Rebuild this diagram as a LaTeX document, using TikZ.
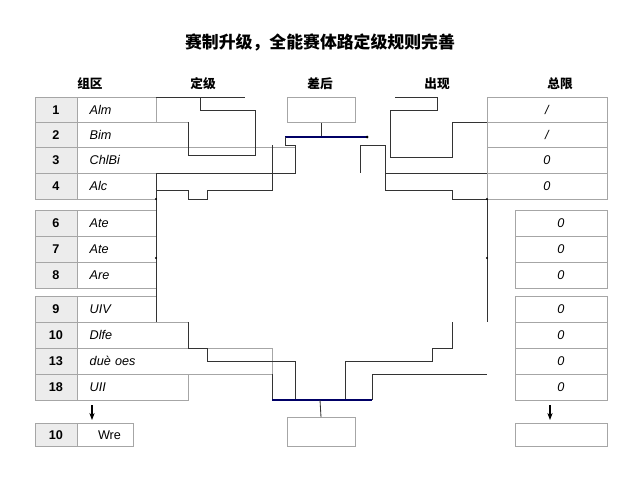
\documentclass[tikz,border=0pt]{standalone}
\usepackage{fontspec}
\setmainfont{Liberation Sans}
\newfontfamily\cjk{Noto Sans CJK SC}
\usetikzlibrary{positioning, arrows.meta, calc}

\tikzset{
  numcell/.style={draw=gray!70, fill=gray!15, minimum width=42*0.025cm, minimum height=26*0.025cm, font=\bfseries\small, inner sep=0pt},
  txtcell/.style={draw=gray!70, fill=white, minimum height=26*0.025cm, font=\itshape\small, anchor=west, inner sep=0pt, align=left, text depth=0pt},
  rcell/.style={draw=gray!70, fill=white, minimum height=26*0.025cm, font=\itshape\small, inner sep=0pt},
  head/.style={font=\cjk\bfseries\small},
  br/.style={draw=black!80, line width=0.6pt},
  blu/.style={draw=blue!40!black, line width=0.8pt},
}

\begin{document}
\begin{tikzpicture}[x=0.025cm, y=-0.025cm]
        \useasboundingbox (0,0) rectangle (640,480);
        \node[font=\cjk\bfseries\large] (title) at (320,42) {赛制升级，全能赛体路定级规则完善};

        % headers
        \foreach \x/\t in {90/组区, 203/定级, 320/差后, 437/出现, 560/总限} {
            \node[head] at (\x,84) {\t};
        }

        % left rows: number / label / right end of label cell
        \foreach \y/\n/\t/\w in {110/1/Alm/79, 135/2/Bim/111, 160/3/ChlBi/218, 186/4/Alc/79,
                                 223/6/Ate/79, 249/7/Ate/79, 275/8/Are/79,
                                 309/9/UIV/79, 335/10/Dlfe/111, 361/13/duè oes/195, 387/18/UII/111} {
            \node[numcell] (n\n) at (56,\y) {\n};
            \node[txtcell, minimum width=\w*0.025cm, text width=(\w-8)*0.025cm] (t\n) at (77,\y) {\hspace{6pt}\t};
        }
        \draw[-{Stealth[length=5pt]}, thick] (92,405) -- (92,420);
        \node[numcell, minimum height=23*0.025cm] (nW) at (56,435) {10};
        \node[txtcell, minimum width=56*0.025cm, minimum height=23*0.025cm] (tW) at (77,435) {\hspace{6pt}\upshape Wre};

        % right column
        \foreach \y/\t/\w/\c in {110/{/}/120/547, 135/{/}/120/547, 160/0/120/547, 186/0/120/547,
                                 223/0/92/561, 249/0/92/561, 275/0/92/561,
                                 309/0/92/561, 335/0/92/561, 361/0/92/561, 387/0/92/561} {
            \node[rcell, minimum width=\w*0.025cm] at (\c,\y) {\t};
        }
        \draw[-{Stealth[length=5pt]}, thick] (550,405) -- (550,420);
        \node[rcell, minimum width=92*0.025cm, minimum height=23*0.025cm] (rW) at (561,435) {};

        % centre boxes
        \node[draw=gray!70, minimum width=68*0.025cm, minimum height=25*0.025cm] (top) at (321,110) {};
        \node[draw=gray!70, minimum width=68*0.025cm, minimum height=29*0.025cm] (bot) at (321,432) {};

        % left upper bracket
        \draw[br] (156,97) -- (245,97);
        \draw[br] (200,97) -- (200,110) -- (255,110) -- (255,155) -- (188,155) -- (188,122);
        \draw[br] (295,145) -- (295,173) -- (156,173);
        \draw[br] (272,145) -- (272,190) -- (207,190) -- (207,199) -- (188,199) -- (188,190) -- (156,190);
        \draw[br] (156,173) -- (156,296);
        \fill (156,199) circle (1.2) (156,258) circle (1.2);

        % right upper bracket
        \draw[br] (395,97) -- (437,97) -- (437,110) -- (390,110) -- (390,157) -- (452,157) -- (452,122) -- (487,122);
        \draw[br] (360,145) -- (385,145) -- (385,173) -- (487,173);
        \draw[br] (360,145) -- (360,173);
        \draw[br] (385,173) -- (385,190) -- (452,190) -- (452,199) -- (487,199);
        \draw[br] (487,199) -- (487,296);
        \fill (487,199) circle (1.2) (487,258) circle (1.2);

        % top centre
        \draw[br] (top.south) -- ++(0,15);
        \draw[blu] (285,137) -- (367,137);
        \draw[br] (285,137) -- (285,145) -- (295,145);
        \fill (367,137) circle (1.5);

        % left lower bracket
        \draw[br] (156,296) -- (156,322);
        \draw[br] (188,322) -- (188,348);
        \draw[br] (188,348) -- (207,348) -- (207,361) -- (295,361) -- (295,400);
        \draw[br] (272,374) -- (272,400);

        % right lower bracket
        \draw[br] (487,296) -- (487,322);
        \draw[br] (452,322) -- (452,348) -- (432,348) -- (432,361) -- (345,361) -- (345,400);
        \draw[br] (372,374) -- (487,374);
        \draw[br] (372,374) -- (372,400);

        % bottom centre
        \draw[blu] (272,400) -- (372,400);
        \draw[br] (320,400) -- (bot.north);
    \end{tikzpicture}
\end{document}
